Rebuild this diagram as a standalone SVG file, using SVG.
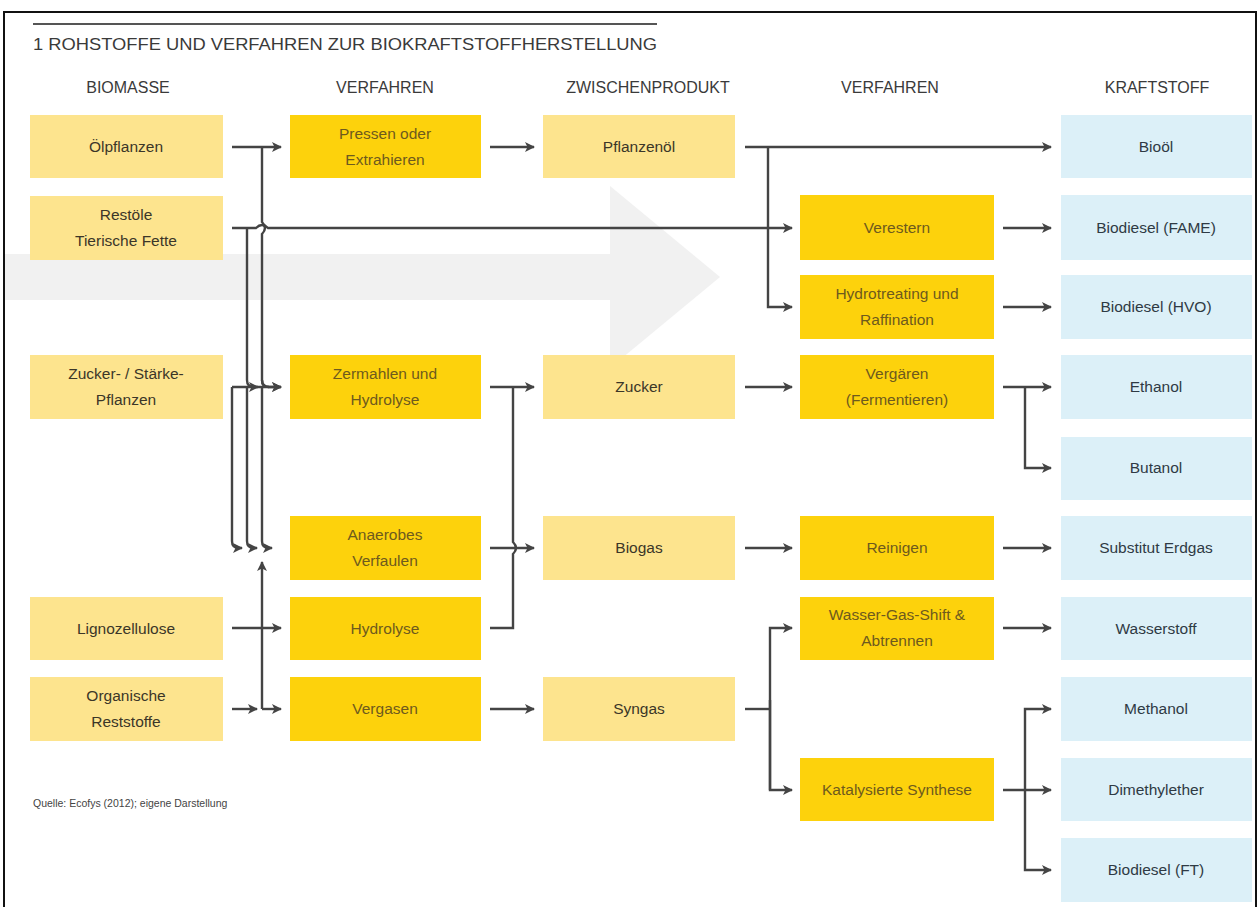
<svg xmlns="http://www.w3.org/2000/svg" width="1259" height="907" viewBox="0 0 1259 907">
<style>
text{font-family:"Liberation Sans","DejaVu Sans",sans-serif;text-anchor:middle}
.t{font-size:15.5px;fill:#3b3628}
.tb{font-size:15.5px;fill:#6e5a1e}
.tk{font-size:15.5px;fill:#2f3a44}
.h{font-size:16px;fill:#3a3a3a}
.bio{fill:#fde48e}
.ver{fill:#fdd20c}
.kra{fill:#dcf0f8}
.c{fill:none;stroke:#444;stroke-width:2.4}
.ca{fill:none;stroke:#444;stroke-width:2.4;marker-end:url(#ah)}
</style>
<defs>
<marker id="ah" viewBox="0 0 10 10" refX="9" refY="5" markerWidth="10" markerHeight="10" markerUnits="userSpaceOnUse" orient="auto">
<path d="M0,0 L10,5 L0,10 L2.5,5 Z" fill="#444"/>
</marker>
</defs>
<rect width="1259" height="907" fill="#fff"/>
<rect x="4" y="12" width="1252" height="905" fill="none" stroke="#111" stroke-width="2"/>
<g id="bg-arrow" fill="#f1f1f1">
<rect x="5" y="254" width="608" height="46"/>
<polygon points="610,186 720,277 610,368"/>
</g>
<line x1="33" y1="24" x2="657" y2="24" stroke="#555" stroke-width="2"/>
<text x="33" y="50" style="text-anchor:start;font-size:17px;fill:#3a3a3a" textLength="624" lengthAdjust="spacingAndGlyphs">1 ROHSTOFFE UND VERFAHREN ZUR BIOKRAFTSTOFFHERSTELLUNG</text>
<g id="headers">
<text class="h" x="128" y="93">BIOMASSE</text>
<text class="h" x="385" y="93">VERFAHREN</text>
<text class="h" x="648" y="93">ZWISCHENPRODUKT</text>
<text class="h" x="890" y="93">VERFAHREN</text>
<text class="h" x="1157" y="93">KRAFTSTOFF</text>
</g>
<g id="n-oelpflanzen"><rect class="bio" x="30" y="115" width="193" height="63"/><text class="t" x="126" y="152">Ölpflanzen</text></g>
<g id="n-restoele"><rect class="bio" x="30" y="196" width="193" height="64"/><text class="t" x="126" y="220">Restöle</text><text class="t" x="126" y="246">Tierische Fette</text></g>
<g id="n-zucker-staerke"><rect class="bio" x="30" y="355" width="193" height="64"/><text class="t" x="126" y="379">Zucker- / Stärke-</text><text class="t" x="126" y="405">Pflanzen</text></g>
<g id="n-ligno"><rect class="bio" x="30" y="597" width="193" height="63"/><text class="t" x="126" y="634">Lignozellulose</text></g>
<g id="n-organisch"><rect class="bio" x="30" y="677" width="193" height="64"/><text class="t" x="126" y="701">Organische</text><text class="t" x="126" y="727">Reststoffe</text></g>
<g id="n-pressen"><rect class="ver" x="290" y="115" width="191" height="63"/><text class="tb" x="385" y="139">Pressen oder</text><text class="tb" x="385" y="165">Extrahieren</text></g>
<g id="n-zermahlen"><rect class="ver" x="290" y="355" width="191" height="64"/><text class="tb" x="385" y="379">Zermahlen und</text><text class="tb" x="385" y="405">Hydrolyse</text></g>
<g id="n-anaerob"><rect class="ver" x="290" y="516" width="191" height="64"/><text class="tb" x="385" y="540">Anaerobes</text><text class="tb" x="385" y="566">Verfaulen</text></g>
<g id="n-hydrolyse"><rect class="ver" x="290" y="597" width="191" height="63"/><text class="tb" x="385" y="634">Hydrolyse</text></g>
<g id="n-vergasen"><rect class="ver" x="290" y="677" width="191" height="64"/><text class="tb" x="385" y="714">Vergasen</text></g>
<g id="n-pflanzenoel"><rect class="bio" x="543" y="115" width="192" height="63"/><text class="t" x="639" y="152">Pflanzenöl</text></g>
<g id="n-zucker"><rect class="bio" x="543" y="355" width="192" height="64"/><text class="t" x="639" y="392">Zucker</text></g>
<g id="n-biogas"><rect class="bio" x="543" y="516" width="192" height="64"/><text class="t" x="639" y="553">Biogas</text></g>
<g id="n-syngas"><rect class="bio" x="543" y="677" width="192" height="64"/><text class="t" x="639" y="714">Syngas</text></g>
<g id="n-verestern"><rect class="ver" x="800" y="195" width="194" height="65"/><text class="tb" x="897" y="233">Verestern</text></g>
<g id="n-hydrotreating"><rect class="ver" x="800" y="275" width="194" height="64"/><text class="tb" x="897" y="299">Hydrotreating und</text><text class="tb" x="897" y="325">Raffination</text></g>
<g id="n-vergaeren"><rect class="ver" x="800" y="355" width="194" height="64"/><text class="tb" x="897" y="379">Vergären</text><text class="tb" x="897" y="405">(Fermentieren)</text></g>
<g id="n-reinigen"><rect class="ver" x="800" y="516" width="194" height="64"/><text class="tb" x="897" y="553">Reinigen</text></g>
<g id="n-wgs"><rect class="ver" x="800" y="597" width="194" height="63"/><text class="tb" x="897" y="620">Wasser-Gas-Shift &amp;</text><text class="tb" x="897" y="646">Abtrennen</text></g>
<g id="n-katalyse"><rect class="ver" x="800" y="758" width="194" height="63"/><text class="tb" x="897" y="795">Katalysierte Synthese</text></g>
<g id="n-biooel"><rect class="kra" x="1061" y="115" width="191" height="63"/><text class="tk" x="1156" y="152">Bioöl</text></g>
<g id="n-fame"><rect class="kra" x="1061" y="195" width="191" height="65"/><text class="tk" x="1156" y="233">Biodiesel (FAME)</text></g>
<g id="n-hvo"><rect class="kra" x="1061" y="275" width="191" height="64"/><text class="tk" x="1156" y="312">Biodiesel (HVO)</text></g>
<g id="n-ethanol"><rect class="kra" x="1061" y="355" width="191" height="64"/><text class="tk" x="1156" y="392">Ethanol</text></g>
<g id="n-butanol"><rect class="kra" x="1061" y="437" width="191" height="63"/><text class="tk" x="1156" y="473">Butanol</text></g>
<g id="n-erdgas"><rect class="kra" x="1061" y="516" width="191" height="64"/><text class="tk" x="1156" y="553">Substitut Erdgas</text></g>
<g id="n-wasserstoff"><rect class="kra" x="1061" y="597" width="191" height="63"/><text class="tk" x="1156" y="634">Wasserstoff</text></g>
<g id="n-methanol"><rect class="kra" x="1061" y="677" width="191" height="64"/><text class="tk" x="1156" y="714">Methanol</text></g>
<g id="n-dme"><rect class="kra" x="1061" y="758" width="191" height="63"/><text class="tk" x="1156" y="795">Dimethylether</text></g>
<g id="n-ft"><rect class="kra" x="1061" y="838" width="191" height="64"/><text class="tk" x="1156" y="875">Biodiesel (FT)</text></g>
<g id="connectors">
<path class="ca" d="M232,147 H281"/>
<path class="c" d="M262,147 V222 Q268,228 262,234 V380 Q262,387 269,387"/>
<path class="ca" d="M262,380 Q262,387 269,387 H281"/>
<path class="ca" d="M262,387 V541 Q262,548 269,548 H272"/>
<path class="ca" d="M232,228 H256 Q262,222 268,228 H792"/>
<path class="ca" d="M247,228 V380 Q247,387 254,387 H258"/>
<path class="ca" d="M247,387 V541 Q247,548 254,548 H257"/>
<path class="ca" d="M232,387 H281"/>
<path class="ca" d="M232,387 V541 Q232,548 239,548 H242"/>
<path class="ca" d="M232,628 H281"/>
<path class="ca" d="M232,709 H257"/>
<path class="ca" d="M262,709 V562"/>
<path class="ca" d="M262,709 H281"/>
<path class="ca" d="M490,147 H534"/>
<path class="ca" d="M490,387 H534"/>
<path class="c" d="M513,387 V542 Q519,548 513,554 V628 H490"/>
<path class="ca" d="M490,548 H534"/>
<path class="ca" d="M490,709 H534"/>
<path class="ca" d="M745,147 H1051"/>
<path class="ca" d="M768,147 V307 H792"/>
<path class="ca" d="M745,387 H792"/>
<path class="ca" d="M745,548 H792"/>
<path class="c" d="M745,709 H770"/>
<path class="ca" d="M770,790 V628 H792"/>
<path class="ca" d="M770,700 V790 H792"/>
<path class="ca" d="M1003,228 H1051"/>
<path class="ca" d="M1003,307 H1051"/>
<path class="ca" d="M1003,387 H1051"/>
<path class="ca" d="M1025,387 V468 H1051"/>
<path class="ca" d="M1003,548 H1051"/>
<path class="ca" d="M1003,628 H1051"/>
<path class="ca" d="M1003,790 H1051"/>
<path class="ca" d="M1025,790 V709 H1051"/>
<path class="ca" d="M1025,790 V870 H1051"/>
</g>
<text x="33" y="807" style="text-anchor:start;font-size:10.5px;fill:#444">Quelle: Ecofys (2012); eigene Darstellung</text>
</svg>
